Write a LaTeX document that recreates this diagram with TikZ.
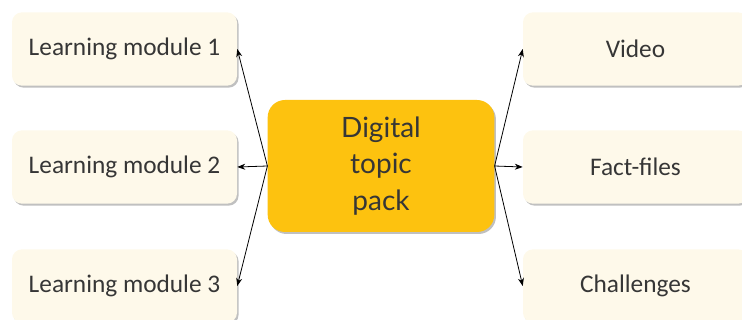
\documentclass[tikz,border=0pt]{standalone}
\usepackage{fontspec}
\setmainfont{Carlito}
\newfontfamily\hubfont{Lato}
\usetikzlibrary{shadows,arrows.meta}
\definecolor{cream}{HTML}{FEF9EA}
\definecolor{topicgold}{HTML}{FDC20F}
\definecolor{inkgrey}{HTML}{363636}

\begin{document}
\begin{tikzpicture}[x=0.75pt,y=-0.75pt,
    leaf/.style={rounded corners=7.5pt, fill=cream, text=inkgrey,
        minimum width=168.75pt, minimum height=55pt, inner sep=0pt,
        font=\fontsize{19}{22}\selectfont,
        drop shadow={shadow xshift=1.2pt, shadow yshift=-1.5pt, fill=black!45, opacity=.55}},
    hub/.style={rounded corners=13pt, fill=topicgold, text=inkgrey,
        minimum width=170pt, minimum height=99pt, inner sep=0pt, align=center,
        font=\hubfont\fontsize{21}{27.5}\selectfont,
        drop shadow={shadow xshift=1.2pt, shadow yshift=-1.5pt, fill=black!45, opacity=.55}},
    link/.style={-{Stealth[length=6pt,width=4.5pt]}, line width=0.6pt}]

    \clip (0,0) rectangle (742,320);

    % centre
    \node[hub] (pack) at (381,166) {Digital\\topic\\pack};

    % left column
    \node[leaf] (mod1) at (124.5,49) {Learning module 1};
    \node[leaf] (mod2) at (124.5,167) {Learning module 2};
    \node[leaf] (mod3) at (124.5,286) {Learning module 3};

    % right column
    \node[leaf] (video) at (635.5,49) {Video};
    \node[leaf] (facts) at (635.5,167) {Fact-files};
    \node[leaf] (chall) at (635.5,286) {Challenges};

    \draw[link] (pack.west) -- (mod1.east);
    \draw[link] (pack.west) -- (mod2.east);
    \draw[link] (pack.west) -- (mod3.east);
    \draw[link] (pack.east) -- (video.west);
    \draw[link] (pack.east) -- (facts.west);
    \draw[link] (pack.east) -- (chall.west);
\end{tikzpicture}
\end{document}
